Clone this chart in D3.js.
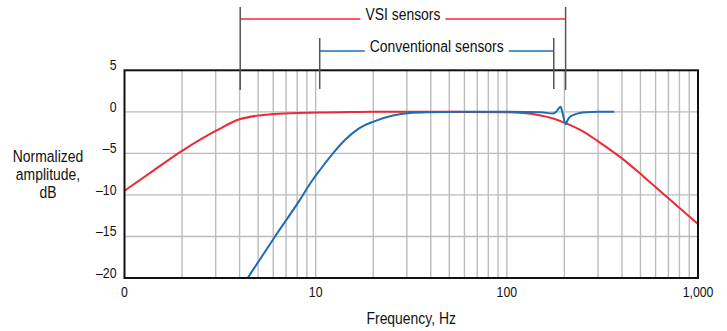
<!DOCTYPE html>
<html>
<head>
<meta charset="utf-8">
<script src="https://cdn.jsdelivr.net/npm/d3@7"></script>
<style>
  html, body { margin: 0; padding: 0; background: #fff; }
  svg { display: block; font-family: "Liberation Sans", Arial, sans-serif; }
</style>
</head>
<body>
<svg id="chart" width="727" height="331"></svg>
<script>
// VSI sensor response (Hz, dB)
const vsiFreq = [1, 1.41, 2, 3, 4, 5, 5.8, 8, 10.5, 15, 20, 50, 100, 117, 148, 175, 200, 250, 300, 400, 520, 700, 1000];
const vsiDb = [-9.5, -7.1, -4.7, -2.3, -0.9, -0.45, -0.3, -0.15, -0.07, -0.03, 0, 0, -0.05, -0.12, -0.4, -0.8, -1.3, -2.35, -3.55, -5.6, -7.8, -10.4, -13.5];

// Conventional sensor response (Hz, dB)
const convFreq = [4.41, 6.13, 8.27, 9.57, 10.53, 12.32, 14.23, 16.85, 19.94, 25.37, 31.1, 39.6, 56.8, 100, 150, 175, 181, 186, 191, 196, 203, 207, 212, 222, 240, 260, 300, 365];
const convDb = [-20, -15, -10.6, -8.3, -7.0, -5.0, -3.4, -2.0, -1.2, -0.45, -0.15, -0.05, 0, 0, -0.05, -0.2, 0, 0.35, 0.6, -0.2, -1.5, -1.1, -0.7, -0.4, -0.15, -0.05, 0, 0];

// Bandwidth brackets (Hz)
const vsiBand = [4.03, 203];
const convBand = [10.5, 176];

const xTicks = [1, 10, 100, 1000];
const xTickLabels = ['0', '10', '100', '1,000'];
const yTicks = [5, 0, -5, -10, -15, -20];
const yGrid = [0, -5, -10, -15];

const red = '#ec2a35';
const blue = '#1f6cb4';
const narrow = 0.82; // squeeze Liberation Sans into a condensed look

const svg = d3.select('#chart');
const margin = { top: 70.3, left: 124.5, right: 727 - 698, bottom: 331 - 278 };
const width = 727 - margin.left - margin.right;
const height = 331 - margin.top - margin.bottom;

const x = d3.scaleLog().domain([1, 1000]).range([0, width]);
const y = d3.scaleLinear().domain([-20, 5]).range([height, 0]);

function label(parent, px, py, txt, size, anchor) {
  return parent.append('text')
    .attr('transform', `translate(${px},${py}) scale(${narrow},1)`)
    .attr('text-anchor', anchor || 'middle')
    .attr('font-size', size + 'px')
    .attr('fill', '#111')
    .text(txt);
}

const g = svg.append('g')
  .attr('transform', `translate(${margin.left},${margin.top})`);

svg.append('defs').append('clipPath').attr('id', 'plot-clip')
  .append('rect').attr('width', width).attr('height', height);

// Grid
const minor = [];
for (let d = 1; d < 1000; d *= 10) {
  for (let k = 2; k <= 9; k++) minor.push(d * k);
}
minor.push(10, 100);

g.append('g')
  .selectAll('line')
  .data(minor)
  .join('line')
  .attr('x1', d => x(d)).attr('x2', d => x(d))
  .attr('y1', 0).attr('y2', height)
  .attr('stroke', '#bcbcbc')
  .attr('stroke-width', 1.4);

g.append('g')
  .selectAll('line')
  .data(yGrid)
  .join('line')
  .attr('x1', 0).attr('x2', width)
  .attr('y1', d => y(d)).attr('y2', d => y(d))
  .attr('stroke', '#bcbcbc')
  .attr('stroke-width', 1.4);

// Curves
const line = d3.line()
  .x(d => x(d[0]))
  .y(d => y(d[1]))
  .curve(d3.curveMonotoneX);

const curves = g.append('g').attr('clip-path', 'url(#plot-clip)');

curves.append('path')
  .datum(d3.zip(vsiFreq, vsiDb))
  .attr('d', line)
  .attr('fill', 'none')
  .attr('stroke', red)
  .attr('stroke-width', 2);

curves.append('path')
  .datum(d3.zip(convFreq, convDb))
  .attr('d', line)
  .attr('fill', 'none')
  .attr('stroke', blue)
  .attr('stroke-width', 2);

// Frame
g.append('rect')
  .attr('width', width)
  .attr('height', height)
  .attr('fill', 'none')
  .attr('stroke', '#111')
  .attr('stroke-width', 2);

// Tick labels
xTicks.forEach((d, i) => label(g, x(d), height + 19, xTickLabels[i], 15));
yTicks.forEach(d => label(g, -8, y(d), d < 0 ? '\u2013' + Math.abs(d) : String(d), 15, 'end'));

// Axis titles
label(svg, margin.left + width / 2, 324, 'Frequency, Hz', 17);
['Normalized', 'amplitude,', 'dB'].forEach((t, i) => label(svg, 48, 162 + i * 18, t, 17));

// Bandwidth brackets
function bracket(band, txt, color, yLine, yTop, yBottom) {
  const x0 = margin.left + x(band[0]);
  const x1 = margin.left + x(band[1]);
  const mid = (x0 + x1) / 2;
  const bg = svg.append('g');
  const t = label(bg, mid, yLine + 0.5, txt, 17);
  const half = t.node().getComputedTextLength() * narrow / 2;
  bg.selectAll('line.seg')
    .data([[x0, mid - half - 5], [mid + half + 5, x1]])
    .join('line')
    .attr('class', 'seg')
    .attr('x1', d => d[0]).attr('x2', d => d[1])
    .attr('y1', yLine).attr('y2', yLine)
    .attr('stroke', color)
    .attr('stroke-width', 1.6);
  bg.selectAll('line.tick')
    .data([x0, x1])
    .join('line')
    .attr('class', 'tick')
    .attr('x1', d => d).attr('x2', d => d)
    .attr('y1', yTop).attr('y2', yBottom)
    .attr('stroke', '#555')
    .attr('stroke-width', 1.5);
}

bracket(vsiBand, 'VSI sensors', red, 19, 7, 90);
bracket(convBand, 'Conventional sensors', blue, 51, 38, 89);
</script>
</body>
</html>
